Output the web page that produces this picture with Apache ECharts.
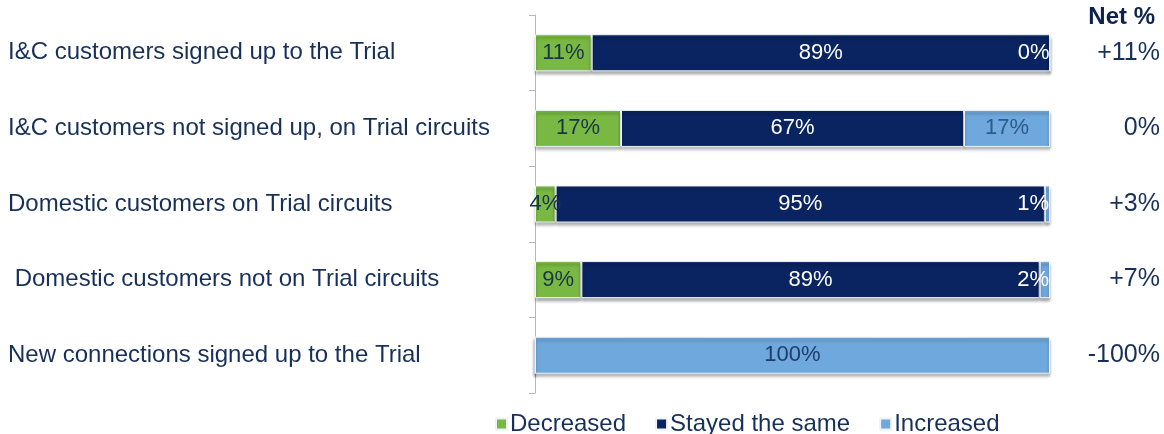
<!DOCTYPE html>
<html>
<head>
<meta charset="utf-8">
<script src="https://cdn.jsdelivr.net/npm/echarts@6/dist/echarts.min.js"></script>
<style>
html,body{margin:0;padding:0;background:#fff;}
#chart{width:1164px;height:434px;}
</style>
</head>
<body>
<div id="chart"></div>
<script>
var categories = [
	'I&C customers signed up to the Trial',
	'I&C customers not signed up, on Trial circuits',
	'Domestic customers on Trial circuits',
	' Domestic customers not on Trial circuits',
	'New connections signed up to the Trial'
];
var decreased = [11, 16.7, 4, 9, 0];
var stayedSame = [89, 66.6, 95, 89, 0];
var increased = [0, 16.7, 1, 2, 100];
var netLabels = ['+11%', '0%', '+3%', '+7%', '-100%'];

var textColor = '#17305a';
var shadow = {shadowColor: 'rgba(0,0,0,0.35)', shadowOffsetY: 3, shadowBlur: 3};

//每个数据点单独设置标签
function buildItems(values, seriesName){
	var items = [];
	for (var i = 0; i < values.length; i++) {
		var v = values[i];
		var item = {value: v};
		if (seriesName == 'Increased') {
			if (v < 5 && i < 4) {
				item.label = {show: true, position: 'insideRight', distance: 1, color: '#ffffff'};
			} else {
				item.label = {show: true, position: 'inside', color: i == 4 ? '#1f3d6b' : '#2b5a8c'};
			}
		} else if (v == 0) {
			item.label = {show: false};
		}
		items.push(item);
	}
	return items;
}

function pct(p){
	return Math.round(p.value) + '%';
}

var chart = echarts.init(document.getElementById('chart'));
var options = {
	animation: false,
	color: ['#79b943', '#0a2461', '#6fa8dc'],
	title: {
		text: 'Net %',
		right: 4,
		top: 0,
		textStyle: {fontFamily: 'Liberation Sans', fontSize: 24, fontWeight: 'bold', color: '#0c2350'}
	},
	legend: {
		left: 490,
		top: 407,
		itemWidth: 11,
		itemHeight: 11,
		itemGap: 29,
		icon: 'rect',
		textStyle: {fontFamily: 'Liberation Sans', fontSize: 24, color: textColor, padding: [0, 0, 0, -2]},
		data: ['Decreased', 'Stayed the same', 'Increased']
	},
	grid: {left: 535, right: 114, top: 15, bottom: 41},
	xAxis: {
		type: 'value',
		min: 0,
		max: 100,
		show: false
	},
	yAxis: [{
		type: 'category',
		inverse: true,
		data: categories,
		axisLine: {show: true, lineStyle: {color: '#b8b8b8', width: 1}},
		axisTick: {show: true, length: 6, lineStyle: {color: '#b8b8b8'}},
		axisLabel: {
			align: 'left',
			margin: 527,
			fontFamily: 'Liberation Sans',
			fontSize: 24,
			color: textColor
		}
	}, {
		type: 'category',
		inverse: true,
		position: 'right',
		data: netLabels,
		axisLine: {show: false},
		axisTick: {show: false},
		axisLabel: {
			align: 'right',
			margin: 110,
			fontFamily: 'Liberation Sans',
			fontSize: 25,
			color: textColor
		}
	}],
	series: [{
		name: 'Decreased',
		type: 'bar',
		stack: 'total',
		barWidth: '49%',
		data: buildItems(decreased, 'Decreased'),
		itemStyle: Object.assign({borderColor: '#eef3f8', borderWidth: 1}, shadow),
		label: {show: true, position: 'inside', formatter: pct, fontFamily: 'Liberation Sans', fontSize: 22, color: '#1a3347'}
	}, {
		name: 'Stayed the same',
		type: 'bar',
		stack: 'total',
		data: buildItems(stayedSame, 'Stayed the same'),
		itemStyle: Object.assign({borderColor: '#eef3f8', borderWidth: 1}, shadow),
		label: {show: true, position: 'inside', formatter: pct, fontFamily: 'Liberation Sans', fontSize: 22, color: '#ffffff'}
	}, {
		name: 'Increased',
		type: 'bar',
		stack: 'total',
		data: buildItems(increased, 'Increased'),
		itemStyle: Object.assign({borderColor: '#eef3f8', borderWidth: 1}, shadow),
		label: {show: true, formatter: pct, fontFamily: 'Liberation Sans', fontSize: 22}
	}]
};
chart.setOption(options);
</script>
</body>
</html>
